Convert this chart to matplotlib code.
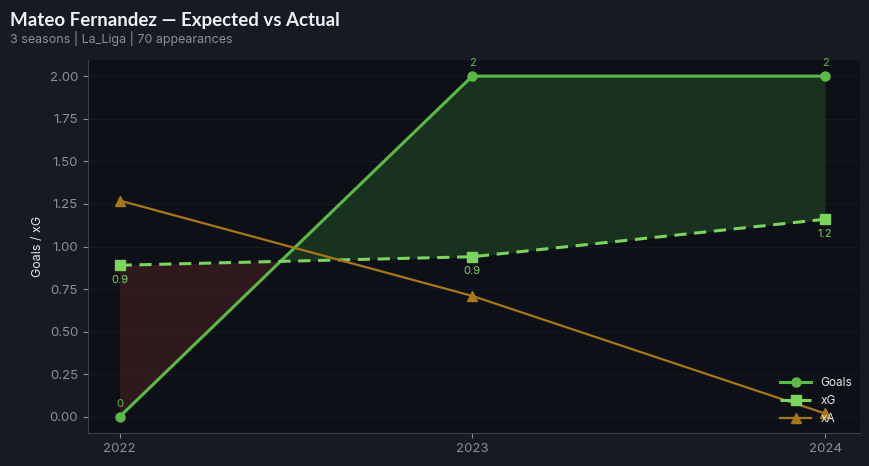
import numpy as np
import matplotlib.pyplot as plt

plt.rcParams['font.family'] = ['Inter', 'DejaVu Sans']

# data
seasons = ["2022", "2023", "2024"]
goals = [0, 2, 2]
xg = [0.89, 0.94, 1.16]
xa = [1.27, 0.71, 0.02]

bg = "#161a22"
ax_bg = "#0d1017"
c_goals = "#5cb947"
c_xg = "#7dd35f"
c_xa = "#a7771b"

fig = plt.figure(figsize=(8.69, 4.66), dpi=100, facecolor=bg)
ax = fig.add_axes([0.101, 0.071, 0.889, 0.8])
ax.set_facecolor(ax_bg)

x = np.arange(len(seasons))
g = np.array(goals, dtype=float)
e = np.array(xg)

# over / under performance shading
ax.fill_between(x, g, e, where=g >= e, interpolate=True, color="#1d3a22", alpha=0.8, lw=0)
ax.fill_between(x, g, e, where=g < e, interpolate=True, color="#3a1c1f", alpha=0.8, lw=0)

ax.plot(x, goals, color=c_goals, lw=2.2, marker="o", ms=6.5, label="Goals")
ax.plot(x, xg, color=c_xg, lw=2.2, ls="--", dashes=(4, 2.5), marker="s", ms=6.5, label="xG")
ax.plot(x, xa, color=c_xa, lw=1.6, marker="^", ms=6.5, label="xA")

for i in range(len(x)):
    ax.annotate(f"{goals[i]:g}", (x[i], goals[i]), xytext=(0, 6), textcoords="offset points",
                ha="center", va="bottom", color=c_goals, fontsize=8)
    ax.annotate(f"{xg[i]:.1f}", (x[i], xg[i]), xytext=(0, -7), textcoords="offset points",
                ha="center", va="top", color=c_xg, fontsize=8)

ax.set_xticks(x)
ax.set_xticklabels(seasons)
ax.set_xlim(-0.09, 2.1)
ax.set_ylim(-0.094, 2.094)
ax.set_yticks(np.arange(0, 2.01, 0.25))
ax.yaxis.set_major_formatter(plt.FormatStrFormatter("%.2f"))
ax.set_ylabel("Goals / xG", color="#e6e6e6", fontsize=9)

ax.tick_params(colors="#8a8f99", labelsize=9.5)
ax.grid(axis="y", color="#151a22", lw=0.8)
ax.set_axisbelow(True)
for s in ["top", "right"]:
    ax.spines[s].set_visible(False)
for s in ["left", "bottom"]:
    ax.spines[s].set_color("#3a3f4a")

leg = ax.legend(loc="lower right", frameon=False, fontsize=8.5, labelcolor="#e6e6e6",
                handlelength=2.6, borderaxespad=0.3)

fig.text(0.011, 0.955, "Mateo Fernandez — Expected vs Actual", color="#eef0f4",
         fontsize=13.5, fontweight="bold", family="Lato", va="center")
fig.text(0.011, 0.918, "3 seasons | La_Liga | 70 appearances", color="#8a8f99",
         fontsize=9, va="center")

fig.savefig("out.png", dpi=100, facecolor=bg)
